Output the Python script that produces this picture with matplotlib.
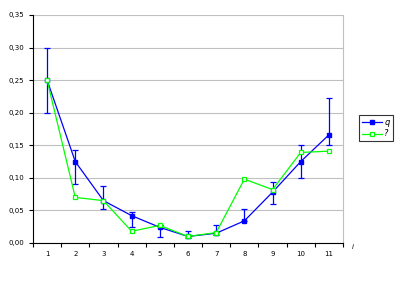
import numpy as np
import matplotlib
matplotlib.use("Agg")
import matplotlib.pyplot as plt
from matplotlib.ticker import FuncFormatter, MultipleLocator

# ── Data ──
cats = [1, 2, 3, 4, 5, 6, 7, 8, 9, 10, 11]
q_vals = [0.250, 0.125, 0.065, 0.042, 0.024, 0.010, 0.015, 0.034, 0.078, 0.125, 0.166]
q_low = [0.200, 0.091, 0.052, 0.024, 0.009, 0.008, 0.012, 0.034, 0.060, 0.100, 0.151]
q_high = [0.300, 0.142, 0.087, 0.048, 0.027, 0.018, 0.027, 0.052, 0.094, 0.150, 0.222]
p_vals = [0.250, 0.070, 0.065, 0.018, 0.027, 0.010, 0.016, 0.098, 0.082, 0.139, 0.141]

x = np.array(cats)
q = np.array(q_vals)
err = [q - np.array(q_low), np.array(q_high) - q]

fig = plt.figure(figsize=(4.01, 2.83), dpi=100)
ax = fig.add_axes([33/401, 1 - 243/283, 310/401, 228/283])

eb = ax.errorbar(x, q, yerr=err, color="#0000ff", lw=0.9, marker="s", ms=3.5,
                 mfc="#0000ff", mec="#0000ff", capsize=2.5, elinewidth=0.9,
                 capthick=0.9, zorder=3)
line_q, = ax.plot([], [], color="#0000ff", lw=0.9, marker="s", ms=3.5,
                  mfc="#0000ff", mec="#0000ff")
line_p, = ax.plot(x, p_vals, color="#00ff00", lw=0.9, marker="s", ms=3.5,
                  mfc="white", mec="#00ff00", mew=0.9, zorder=4)

ax.set_xlim(0.5, 11.5)
ax.set_ylim(0, 0.35)
ax.yaxis.set_major_locator(MultipleLocator(0.05))
ax.yaxis.set_major_formatter(FuncFormatter(lambda v, p: f"{v:.2f}".replace(".", ",")))
ax.set_xticks(cats)
ax.set_xticklabels([str(c) for c in cats])
ax.set_xticks(np.arange(0.5, 12, 1), minor=True)
ax.tick_params(axis="x", which="major", length=0, labelsize=5, pad=6)
ax.tick_params(axis="x", which="minor", length=3, width=0.8, direction="out")
ax.tick_params(axis="y", length=3, width=0.8, labelsize=5, direction="out")

ax.grid(axis="y", color="#c0c0c0", lw=0.8)
ax.set_axisbelow(True)
ax.spines["top"].set_visible(False)
ax.spines["right"].set_color("#c0c0c0")
ax.spines["left"].set_linewidth(0.8)
ax.spines["bottom"].set_linewidth(0.8)

fig.text(352/401, 1 - 247/283, "i", fontsize=5, style="italic", va="center")

leg = fig.legend([line_q, line_p], ["q", "?"], loc="upper left",
                 bbox_to_anchor=(359/401, 1 - 115/283),
                 fontsize=6, frameon=True, fancybox=False, handlelength=2.4,
                 borderpad=0.35, labelspacing=0.3, handletextpad=0.3,
                 borderaxespad=0)
leg.get_frame().set_edgecolor("black")
leg.get_frame().set_linewidth(0.8)
for t in leg.get_texts():
    t.set_style("italic")

fig.savefig("out.png", dpi=100)
